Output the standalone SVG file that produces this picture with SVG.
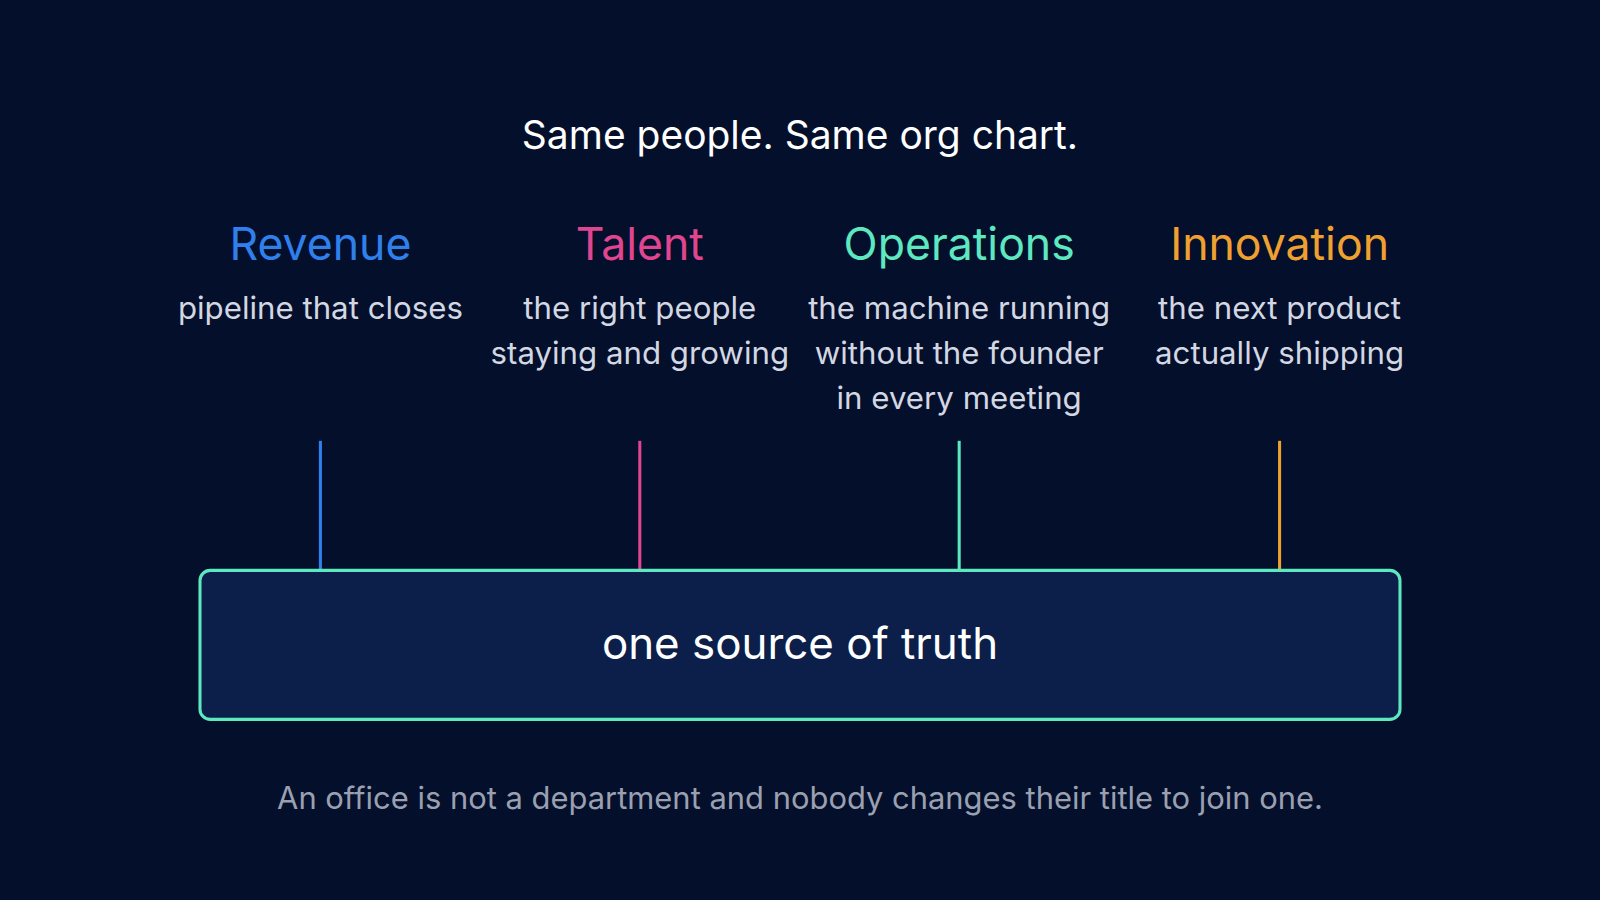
<svg xmlns="http://www.w3.org/2000/svg" width="1600" height="900" viewBox="0 0 1600 900">
<style>
text{font-family:Inter,"Noto Sans",sans-serif;text-anchor:middle}
.h{font-size:43.7px}
.d{font-size:30.6px;fill:#d3d7e2}
</style>
<rect width="1600" height="900" fill="#030f2b"/>
<g transform="scale(1.0204)">
<text x="784" y="146" font-size="38.2" fill="#ffffff">Same people. Same org chart.</text>
<g id="connectors" stroke-width="3">
<line x1="314" y1="432" x2="314" y2="558" stroke="#2f80ed"/>
<line x1="627" y1="432" x2="627" y2="558" stroke="#e0458f"/>
<line x1="940" y1="432" x2="940" y2="558" stroke="#5ee8c0"/>
<line x1="1254" y1="432" x2="1254" y2="558" stroke="#f0a030"/>
</g>
<g id="revenue"><text class="h" x="314" y="255" fill="#2f80ed">Revenue</text>
<text class="d" x="314" y="313">pipeline that closes</text></g>
<g id="talent"><text class="h" x="627" y="255" fill="#e0458f">Talent</text>
<text class="d" x="627" y="313">the right people</text><text class="d" x="627" y="357">staying and growing</text></g>
<g id="operations"><text class="h" x="940" y="255" fill="#5ee8c0">Operations</text>
<text class="d" x="940" y="313">the machine running</text><text class="d" x="940" y="357">without the founder</text><text class="d" x="940" y="401">in every meeting</text></g>
<g id="innovation"><text class="h" x="1254" y="255" fill="#f0a030">Innovation</text>
<text class="d" x="1254" y="313">the next product</text><text class="d" x="1254" y="357">actually shipping</text></g>
<g id="truth"><rect x="196" y="559" width="1176" height="146" rx="10" fill="#0b1f4a" stroke="#5ee8c0" stroke-width="3"/>
<text x="784" y="646" font-size="43" fill="#ffffff">one source of truth</text></g>
<text x="784" y="793" font-size="30.3" fill="#9aa0b0">An office is not a department and nobody changes their title to join one.</text>
</g>
</svg>
